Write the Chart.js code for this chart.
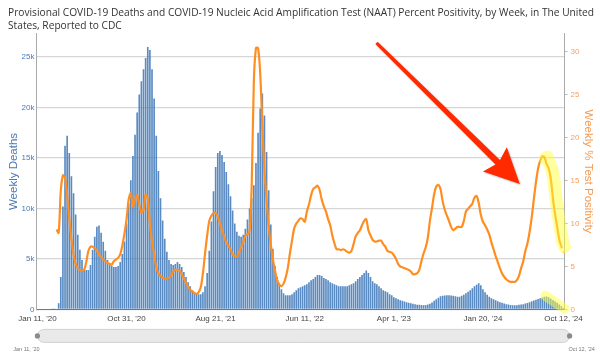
<!DOCTYPE html>
<html>
<head>
<meta charset="utf-8">
<script src="https://cdn.jsdelivr.net/npm/chart.js@4.4.1/dist/chart.umd.min.js"></script>
<style>
  html, body { margin: 0; padding: 0; background: #ffffff; }
  #wrap { width: 600px; height: 356px; }
</style>
</head>
<body>
<div id="wrap"><canvas id="c" width="600" height="356"></canvas></div>
<script>
// ---- Data (weekly, first week ending Jan 11, 2020) ----
const FIRST_WEEK = Date.UTC(2020, 0, 11);
const MONTHS = ['Jan','Feb','Mar','Apr','May','Jun','Jul','Aug','Sep','Oct','Nov','Dec'];

const weeklyDeaths = [
  0,0,0,0,0,0,0,5,20,70,
  600,3200,10200,16200,17200,15500,13200,11500,9400,7400,
  5900,4900,4000,3900,3900,4400,5900,7200,8200,8300,
  7600,6700,5800,4900,4400,4300,4200,4200,4300,4700,
  5500,6700,8500,10500,12800,15200,17300,19500,21300,22600,
  23800,24900,26000,25700,23800,20900,17200,13700,11000,8800,
  7000,5700,4900,4500,4400,4500,4700,4500,4200,3700,
  3200,2700,2300,1900,1700,1600,1500,1500,1700,2300,
  3600,5800,8700,11700,14100,15500,15700,15300,14600,13600,
  12400,11200,9800,8500,7700,7300,7200,7400,8000,8900,
  10000,11000,12300,14500,17500,19900,21400,19200,15600,11800,
  8400,6000,4300,3200,2500,2000,1600,1400,1400,1400,
  1500,1700,1900,2100,2200,2300,2400,2500,2700,2900,
  3000,3200,3400,3400,3300,3100,3000,2900,2700,2600,
  2500,2400,2300,2300,2300,2300,2300,2400,2500,2600,
  2800,3000,3200,3400,3600,3850,3600,3200,2800,2600,
  2500,2300,2100,1900,1800,1700,1500,1400,1200,1100,
  1000,900,850,780,700,650,600,550,500,470,
  450,430,420,430,480,560,680,850,1000,1150,
  1300,1350,1380,1400,1400,1380,1350,1300,1250,1250,
  1350,1450,1600,1750,1900,2100,2300,2450,2600,2400,
  2000,1700,1450,1250,1100,1000,900,800,720,650,
  580,520,480,440,420,410,420,450,480,520,
  580,640,720,800,880,950,1020,1100,1180,1250,
  1280,1200,1050,920,800,650,480,300,150
];

const testPositivity = [
  null,null,null,null,null,null,null,null,null,9.3,
  8.9,13.8,15.6,15.3,13.3,10.6,8.2,6.4,5.3,4.8,
  4.6,4.5,4.6,5.5,6.8,7.3,7.3,7.1,6.8,6.4,
  6.1,5.8,5.6,5.4,5.3,5.2,5.6,5.8,6.0,6.4,
  7.4,8.8,10.5,12.8,13.5,12.0,12.8,13.3,12.2,11.3,
  11.6,13.4,12.9,9.9,8.0,6.4,4.9,4.2,3.9,3.7,
  3.6,3.6,3.7,3.9,4.4,4.6,4.6,4.5,4.1,3.6,
  3.1,2.7,2.3,2.1,1.9,1.8,2.0,2.6,4.2,6.5,
  8.6,10.3,10.9,11.2,11.2,10.8,10.0,9.2,8.5,7.8,
  7.4,7.0,6.4,6.2,6.1,6.6,7.2,7.8,8.6,8.7,
  9.2,14.5,26.5,30.4,30.4,27.5,21.5,16.2,12.8,9.7,
  7.5,5.8,4.5,3.4,2.9,2.7,3.0,3.7,4.8,6.5,
  8.0,9.4,10.0,10.3,10.6,10.5,10.2,11.4,12.2,13.3,
  14.0,14.2,14.4,13.9,12.8,12.0,11.4,10.5,9.8,8.6,
  7.7,7.0,7.0,6.9,7.0,6.9,6.7,6.6,6.8,7.6,
  8.5,8.9,9.2,9.8,10.3,10.5,9.2,8.6,8.1,7.9,
  7.9,8.0,8.0,7.6,7.3,6.8,6.7,6.6,6.3,5.9,
  5.3,5.0,4.9,4.8,4.7,4.6,4.4,4.1,4.1,4.2,
  4.6,5.6,6.5,7.2,8.3,10.3,11.8,13.4,14.3,14.5,
  14.0,12.6,11.6,10.9,10.3,9.6,9.2,9.4,9.6,9.6,
  9.6,10.3,11.4,11.7,12.0,12.3,13.0,13.2,12.4,11.0,
  10.2,9.8,9.3,8.7,7.8,7.0,6.2,5.5,4.8,4.2,
  3.8,3.5,3.3,3.2,3.2,3.2,3.4,3.9,4.8,5.6,
  6.8,7.7,9.0,10.7,12.8,14.8,16.4,17.3,17.8,17.7,
  16.9,16.4,15.2,12.9,11.1,9.6,8.1,7.3,6.6
];

const xTickLabels = ["Jan 11, '20", "Oct 31, '20", "Aug 21, '21", "Jun 11, '22", "Apr 1, '23", "Jan 20, '24", "Oct 12, '24"];
const deathTicks = [0, 5000, 10000, 15000, 20000, 25000];
const positivityTicks = [0, 5, 10, 15, 20, 25, 30];

// week-ending category labels
const weekLabels = weeklyDeaths.map((_, i) => {
  const d = new Date(FIRST_WEEK + i * 7 * 86400000);
  return MONTHS[d.getUTCMonth()] + ' ' + d.getUTCDate() + ", '" + String(d.getUTCFullYear()).slice(2);
});

// annotation anchors in data space (week index, % positivity)
const arrowFrom = { week: 159.8, pct: 31.0 };
const arrowTo = { week: 227.4, pct: 14.6 };
const highlightWeeks = [238, 247];
const highlightBarsFrom = { week: 239.5, deaths: 1350 };
const highlightBarsTo = { week: 248.6, deaths: 60 };

const FONT = "'Liberation Sans', Arial, sans-serif";
const BLUE_TXT = '#4a7ab4';
const ORANGE_TXT = '#f6a062';

const overlay = {
  id: 'overlay',
  afterDatasetsDraw(chart) {
    const { ctx } = chart;
    const x = chart.scales.x, y = chart.scales.y, y1 = chart.scales.y1;
    const meta = chart.getDatasetMeta(1);
    ctx.save();
    ctx.lineCap = 'round';
    ctx.lineJoin = 'round';
    ctx.strokeStyle = 'rgba(255, 255, 60, 0.5)';
    ctx.lineWidth = 13;
    ctx.beginPath();
    for (let i = highlightWeeks[0]; i <= highlightWeeks[1]; i++) {
      const p = meta.data[i];
      if (i === highlightWeeks[0]) ctx.moveTo(p.x + 3, p.y + 2); else ctx.lineTo(p.x + 3, p.y);
    }
    ctx.stroke();
    ctx.lineWidth = 10;
    ctx.beginPath();
    ctx.moveTo(x.getPixelForValue(highlightBarsFrom.week), y.getPixelForValue(highlightBarsFrom.deaths));
    ctx.lineTo(x.getPixelForValue(highlightBarsTo.week), y.getPixelForValue(highlightBarsTo.deaths));
    ctx.stroke();

    const sx = x.getPixelForValue(arrowFrom.week), sy = y1.getPixelForValue(arrowFrom.pct);
    const tx = x.getPixelForValue(arrowTo.week), ty = y1.getPixelForValue(arrowTo.pct);
    const dx = tx - sx, dy = ty - sy, len = Math.hypot(dx, dy);
    const ux = dx / len, uy = dy / len, px = -uy, py = ux;
    const headLen = 35, headHalf = 17;
    const bx = tx - ux * headLen, by = ty - uy * headLen;
    const w0 = 1.6, w1 = 3.2;
    ctx.shadowColor = 'rgba(0,0,0,0.25)';
    ctx.shadowBlur = 2;
    ctx.shadowOffsetX = 1;
    ctx.shadowOffsetY = 1;
    ctx.fillStyle = '#ff2a00';
    ctx.beginPath();
    ctx.moveTo(sx + px * w0, sy + py * w0);
    ctx.lineTo(bx + ux * 4 + px * w1, by + uy * 4 + py * w1);
    ctx.lineTo(bx + px * headHalf, by + py * headHalf);
    ctx.lineTo(tx, ty);
    ctx.lineTo(bx - px * headHalf, by - py * headHalf);
    ctx.lineTo(bx + ux * 4 - px * w1, by + uy * 4 - py * w1);
    ctx.lineTo(sx - px * w0, sy - py * w0);
    ctx.closePath();
    ctx.fill();
    ctx.restore();
  },
  afterDraw(chart) {
    const { ctx, chartArea } = chart;
    const left = chartArea.left + 1, right = chartArea.right + 5;
    const top = chartArea.bottom + 20, h = 13;
    ctx.save();
    ctx.fillStyle = '#e9e9e9';
    ctx.strokeStyle = '#d2d2d2';
    ctx.lineWidth = 1;
    const r = h / 2;
    ctx.beginPath();
    ctx.moveTo(left + r, top);
    ctx.lineTo(right - r, top);
    ctx.arc(right - r, top + r, r, -Math.PI / 2, Math.PI / 2);
    ctx.lineTo(left + r, top + h);
    ctx.arc(left + r, top + r, r, Math.PI / 2, Math.PI * 1.5);
    ctx.closePath();
    ctx.fill();
    ctx.stroke();
    ctx.fillStyle = '#8a8a8a';
    [left, right].forEach(cx => {
      ctx.beginPath();
      ctx.arc(cx, top + r, 2.6, 0, Math.PI * 2);
      ctx.fill();
    });
    ctx.fillStyle = '#777';
    ctx.font = "5.5px " + FONT;
    ctx.textAlign = 'center';
    ctx.textBaseline = 'middle';
    ctx.fillText(weekLabels[0], left - 11, top + h + 7);
    ctx.fillText(weekLabels[weekLabels.length - 1], right + 12, top + h + 7);
    ctx.restore();
  }
};

new Chart(document.getElementById('c'), {
  data: {
    labels: weekLabels,
    datasets: [
      {
        type: 'bar',
        label: 'Weekly Deaths',
        data: weeklyDeaths,
        yAxisID: 'y',
        backgroundColor: 'rgba(66, 122, 184, 0.88)',
        borderWidth: 0,
        categoryPercentage: 1.0,
        barPercentage: 0.78,
        order: 2
      },
      {
        type: 'line',
        label: 'Weekly % Test Positivity',
        data: testPositivity,
        yAxisID: 'y1',
        borderColor: '#ff8e22',
        borderWidth: 2.2,
        pointRadius: 0,
        tension: 0.3,
        fill: false,
        order: 1,
        segment: {
          borderDash: ctx => ctx.p1DataIndex === testPositivity.length - 1 ? [1.5, 4] : undefined
        }
      }
    ]
  },
  options: {
    responsive: false,
    animation: false,
    devicePixelRatio: 1,
    layout: { padding: { left: 8, right: 6, top: 0, bottom: 27 } },
    plugins: {
      legend: { display: false },
      tooltip: { enabled: false },
      title: {
        display: true,
        align: 'start',
        text: [
          'Provisional COVID-19 Deaths and COVID-19 Nucleic Acid Amplification Test (NAAT) Percent Positivity, by Week, in The United',
          'States, Reported to CDC'
        ],
        color: '#333333',
        font: { family: "'Open Sans', sans-serif", size: 10.2, weight: 'normal', lineHeight: 1.3 },
        padding: { top: 6, bottom: 1 }
      }
    },
    scales: {
      x: {
        type: 'category',
        offset: true,
        grid: { display: false, drawTicks: false },
        border: { display: true, color: '#777', width: 1 },
        ticks: {
          autoSkip: false,
          maxRotation: 0,
          minRotation: 0,
          padding: 5,
          color: '#444',
          font: { family: FONT, size: 8 },
          callback(value) {
            const l = this.getLabelForValue(value);
            return xTickLabels.includes(l) ? l : '';
          }
        }
      },
      y: {
        type: 'linear',
        position: 'left',
        min: 0,
        max: 27330,
        afterBuildTicks(scale) { scale.ticks = deathTicks.map(v => ({ value: v })); },
        grid: { color: '#d6d6d6', lineWidth: 1.3, drawTicks: false },
        border: { display: true, color: '#aaa', width: 1 },
        ticks: {
          padding: 2,
          color: BLUE_TXT,
          font: { family: FONT, size: 8 },
          callback: v => v === 0 ? '0' : (v / 1000) + 'k'
        },
        title: {
          display: true,
          text: 'Weekly Deaths',
          color: BLUE_TXT,
          font: { family: FONT, size: 11.5, lineHeight: 1.0 },
          padding: { top: 0, bottom: 0 }
        }
      },
      y1: {
        type: 'linear',
        position: 'right',
        min: 0,
        max: 32.1,
        afterBuildTicks(scale) { scale.ticks = positivityTicks.map(v => ({ value: v })); },
        grid: { drawOnChartArea: false, color: '#bbb', tickLength: 3 },
        border: { display: true, color: '#aaa', width: 1 },
        ticks: {
          padding: 3,
          color: ORANGE_TXT,
          font: { family: FONT, size: 8 },
          callback: v => String(v)
        },
        title: {
          display: true,
          text: 'Weekly % Test Positivity',
          color: '#f7994d',
          font: { family: FONT, size: 11.5, lineHeight: 1.0 },
          padding: { top: 0, bottom: 0 }
        }
      }
    }
  },
  plugins: [overlay]
});
</script>
</body>
</html>
